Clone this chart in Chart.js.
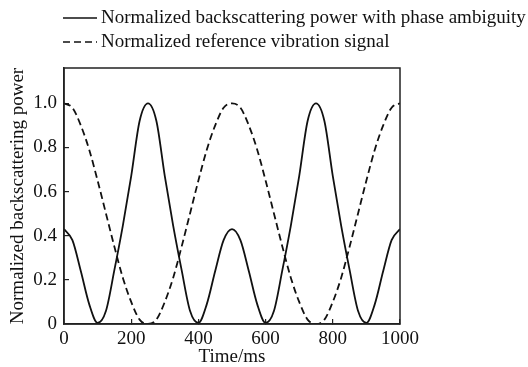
<!DOCTYPE html>
<html>
<head>
<meta charset="utf-8">
<script src="https://cdn.jsdelivr.net/npm/chart.js@4/dist/chart.umd.min.js"></script>
<style>
  html, body { margin: 0; padding: 0; background: #fff; }
  #chart { display: block; }
</style>
</head>
<body>
<canvas id="chart" width="528" height="367"></canvas>
<script>
// time axis (ms)
const times = [0, 25, 50, 75, 100, 125, 150, 175, 200, 225, 250,
  275, 300, 325, 350, 375, 400, 425, 450, 475, 500,
  525, 550, 575, 600, 625, 650, 675, 700, 725, 750,
  775, 800, 825, 850, 875, 900, 925, 950, 975, 1000];

// normalized backscattering power with phase ambiguity (solid)
const powerValues = [0.43, 0.38, 0.24, 0.09, 0.005, 0.06, 0.245, 0.445, 0.67, 0.92, 1.0,
  0.92, 0.67, 0.445, 0.245, 0.06, 0.005, 0.09, 0.24, 0.38, 0.43,
  0.38, 0.24, 0.09, 0.005, 0.06, 0.245, 0.445, 0.67, 0.92, 1.0,
  0.92, 0.67, 0.445, 0.245, 0.06, 0.005, 0.09, 0.24, 0.38, 0.43];

// normalized reference vibration signal (dashed)
const refValues = [1.0, 0.98, 0.9, 0.79, 0.65, 0.5, 0.35, 0.21, 0.1, 0.02, 0,
  0.02, 0.1, 0.21, 0.35, 0.5, 0.65, 0.79, 0.9, 0.98, 1.0,
  0.98, 0.9, 0.79, 0.65, 0.5, 0.35, 0.21, 0.1, 0.02, 0,
  0.02, 0.1, 0.21, 0.35, 0.5, 0.65, 0.79, 0.9, 0.98, 1.0];

const xTicks = [0, 200, 400, 600, 800, 1000];
const yTicks = [0, 0.2, 0.4, 0.6, 0.8, 1.0];

const seriesLabels = ['Normalized backscattering power with phase ambiguity',
  'Normalized reference vibration signal'];

const FONT = '"Liberation Serif", "DejaVu Serif", serif';
const FONT_SIZE = 19;
const INK = '#111';

// ===== frame (box round the plot) =====
const framePlugin = {
  id: 'frame',
  afterDraw(chart) {
    const a = chart.chartArea;
    const c = chart.ctx;
    c.save();
    c.strokeStyle = '#222';
    c.lineWidth = 1.5;
    c.strokeRect(a.left, a.top, a.right - a.left, a.bottom - a.top);
    c.restore();
  }
};

// ===== legend drawn above the plot, two rows =====
const legendPlugin = {
  id: 'topLegend',
  afterDraw(chart) {
    const c = chart.ctx;
    const rows = [18, 42];
    chart.data.datasets.forEach((ds, i) => {
      const y = rows[i];
      c.save();
      c.strokeStyle = ds.borderColor;
      c.lineWidth = 1.5;
      c.setLineDash(ds.borderDash || []);
      c.beginPath();
      c.moveTo(63, y);
      c.lineTo(97, y);
      c.stroke();
      c.setLineDash([]);
      c.fillStyle = INK;
      c.font = FONT_SIZE + 'px ' + FONT;
      c.textBaseline = 'middle';
      c.textAlign = 'left';
      c.fillText(ds.label, 101, y);
      c.restore();
    });
  }
};

const toPoints = vals => times.map((t, i) => ({ x: t, y: vals[i] }));

new Chart(document.getElementById('chart').getContext('2d'), {
  type: 'line',
  data: {
    datasets: [
      {
        label: seriesLabels[0],
        data: toPoints(powerValues),
        borderColor: INK,
        borderWidth: 1.8,
        pointRadius: 0,
        fill: false,
        cubicInterpolationMode: 'monotone'
      },
      {
        label: seriesLabels[1],
        data: toPoints(refValues),
        borderColor: INK,
        borderWidth: 1.8,
        borderDash: [7, 4],
        pointRadius: 0,
        fill: false,
        cubicInterpolationMode: 'monotone'
      }
    ]
  },
  options: {
    responsive: false,
    animation: false,
    layout: { padding: { top: 68, right: 128, left: 0, bottom: 0 } },
    plugins: {
      legend: { display: false },
      tooltip: { enabled: false }
    },
    scales: {
      x: {
        type: 'linear',
        min: 0,
        max: 1000,
        afterBuildTicks: s => { s.ticks = xTicks.map(v => ({ value: v })); },
        afterFit: s => { s.height = 43; },
        ticks: {
          color: INK,
          font: { family: FONT, size: FONT_SIZE },
          padding: 9,
          maxRotation: 0,
          callback: v => String(v)
        },
        grid: { drawOnChartArea: false, tickLength: -5, color: '#222', lineWidth: 1.2 },
        border: { color: '#222', width: 1.5 },
        title: {
          display: true,
          text: 'Time/ms',
          color: INK,
          font: { family: FONT, size: FONT_SIZE, lineHeight: 1 },
          padding: { top: 0, bottom: 0 }
        }
      },
      y: {
        min: 0,
        max: 1.16,
        afterBuildTicks: s => { s.ticks = yTicks.map(v => ({ value: v })); },
        afterFit: s => { s.width = 64; },
        ticks: {
          color: INK,
          font: { family: FONT, size: FONT_SIZE },
          padding: 12,
          callback: v => (v === 0 ? '0' : v.toFixed(1))
        },
        grid: { drawOnChartArea: false, tickLength: -5, color: '#222', lineWidth: 1.2 },
        border: { color: '#222', width: 1.5 },
        title: {
          display: true,
          text: 'Normalized backscattering power',
          color: INK,
          font: { family: FONT, size: FONT_SIZE, lineHeight: 1 },
          padding: { top: 9, bottom: 0 }
        }
      }
    }
  },
  plugins: [framePlugin, legendPlugin]
});
</script>
</body>
</html>
